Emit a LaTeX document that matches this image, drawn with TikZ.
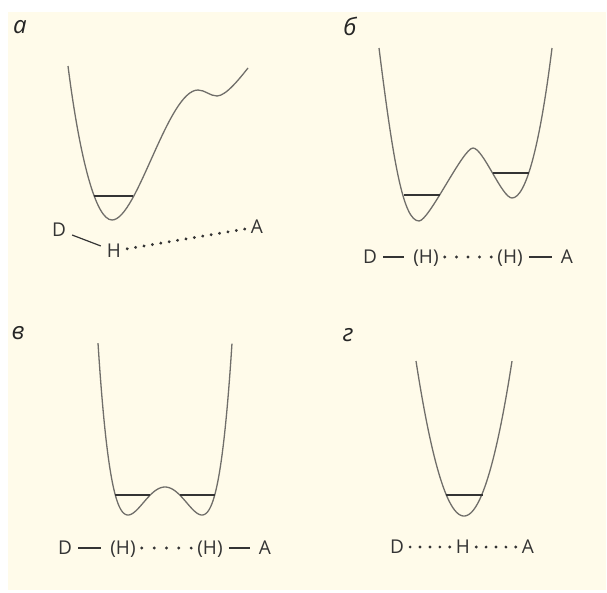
\documentclass[tikz,border=0pt]{standalone}
\usepackage{fontspec}
\setmainfont{Open Sans}
\usetikzlibrary{positioning, decorations.markings}
\definecolor{wellcream}{RGB}{255,251,234}
\definecolor{wellgray}{RGB}{112,110,106}
\definecolor{welldark}{RGB}{52,52,52}
\tikzset{
  wellcurve/.style={draw=wellgray, line width=1.3pt, line join=round},
  groundlvl/.style={draw=welldark, line width=2.2pt},
  atom/.style={text=welldark, font=\fontsize{19}{22}\selectfont,
    text height=13.6pt, text depth=0pt, inner xsep=6pt, inner ysep=2pt},
  plabel/.style={text=black!85, font=\fontsize{24}{28}\selectfont\itshape, inner sep=0pt},
  bond/.style={draw=welldark, line width=1.2pt, shorten >=3pt},
  hbond/.style={decorate, decoration={markings,
    mark=between positions 0 and 1 step #1 with {\fill[welldark] (0,0) circle (1.6pt);}}},
  hbond/.default=0.2499,
}
\begin{document}
\begin{tikzpicture}[x=1pt, y=-1pt]
  \useasboundingbox (0,0) rectangle (607,592);
  \fill[wellcream] (8,12) rectangle (606,590);

  % panel a
  \node[plabel] (la) at (20,27) {а};
  \draw[wellcurve] (68,66) .. controls (80,160) and (96,220) .. (112,220)
    .. controls (137,220) and (168,90) .. (198,90)
    .. controls (205,90) and (210,96) .. (217,96)
    .. controls (226,96) and (240,78) .. (248,68);
  \draw[groundlvl] (94,196) -- (133,196);
  \node[atom] (Da) at (59,230) {D};
  \node[atom] (Ha) at (114,251) {H};
  \node[atom] (Aa) at (257,227) {A};
  \draw[bond, shorten >=0pt] (Da) -- (Ha);
  \path[hbond=0.0714] (Ha) -- (Aa);

  % panel b
  \node[plabel] (lb) at (350,26) {б};
  \draw[wellcurve] (379,48) .. controls (393,160) and (403,221) .. (419,221)
    .. controls (429,221) and (463,148) .. (473,148)
    .. controls (483,148) and (502,198) .. (512,198)
    .. controls (526,198) and (540,145) .. (552,48);
  \draw[groundlvl] (403.5,195) -- (439.5,195);
  \draw[groundlvl] (492.5,173) -- (528.5,173);
  \node[atom] (Db) at (370,257) {D};
  \node[atom] (Hb1) at (426,257) {(H)};
  \node[atom] (Hb2) at (510,257) {(H)};
  \node[atom] (Ab) at (567,257) {A};
  \draw[bond] (Db) -- (Hb1);
  \path[hbond] (Hb1) -- (Hb2);
  \draw[bond] (Hb2) -- (Ab);

  % panel c
  \node[plabel] (lc) at (18,333) {в};
  \draw[wellcurve] plot[domain=-1:1, samples=121, smooth]
    ({165+67*\x}, {515-(1.811*1.811*\x*\x-1)^2*(28+1.55*1.811*1.811*\x*\x)});
  \draw[groundlvl] (115.3,495) -- (150.3,495);
  \draw[groundlvl] (179.7,495) -- (214.7,495);
  \node[atom] (Dc) at (65,548) {D};
  \node[atom] (Hc1) at (123,548) {(H)};
  \node[atom] (Hc2) at (210,548) {(H)};
  \node[atom] (Ac) at (265,548) {A};
  \draw[bond] (Dc) -- (Hc1);
  \path[hbond] (Hc1) -- (Hc2);
  \draw[bond] (Hc2) -- (Ac);

  % panel d
  \node[plabel] (ld) at (348,335) {г};
  \draw[wellcurve] plot[domain=-1:1, samples=81, smooth] ({464+48*\x}, {516-155*\x*\x});
  \draw[groundlvl] (445.5,495) -- (482.5,495);
  \node[atom] (Dd) at (397,547) {D};
  \node[atom] (Hd) at (463,547) {H};
  \node[atom] (Ad) at (528,547) {A};
  \path[hbond] (Dd) -- (Hd);
  \path[hbond] (Hd) -- (Ad);
\end{tikzpicture}
\end{document}
